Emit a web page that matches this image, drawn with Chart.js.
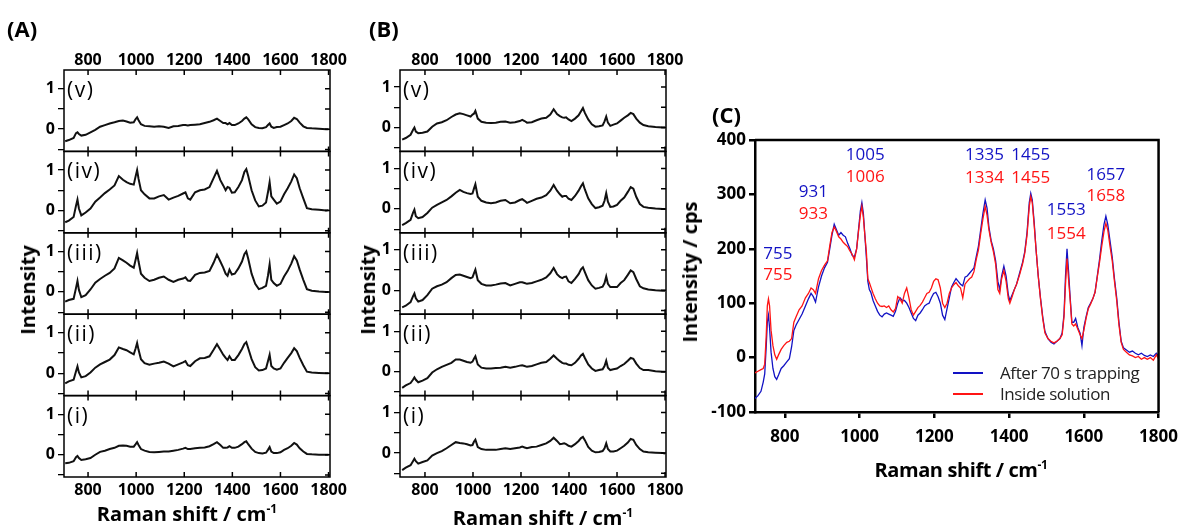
<!DOCTYPE html>
<html><head><meta charset="utf-8">
<script src="https://cdn.jsdelivr.net/npm/chart.js@4.4.1/dist/chart.umd.min.js"></script>
<style>
html,body{margin:0;padding:0;background:#fff;}
body{width:1187px;height:528px;position:relative;overflow:hidden;font-family:'Open Sans',sans-serif;color:#000;}
canvas{position:absolute;}
.t{position:absolute;white-space:nowrap;line-height:1;}
.panel{font-size:22px;font-weight:700;}
.rot{transform:translate(-50%,-50%) rotate(-90deg);}
.ctr{transform:translate(-50%,-50%);}
.ttl{font-size:20px;font-weight:700;}
.rowlab{font-size:21px;font-weight:400;letter-spacing:1.5px;}
.peak{font-size:17px;font-weight:400;transform:translate(-50%,-50%);}
.leg{font-size:17px;letter-spacing:-0.4px;color:#222;}
.legline{position:absolute;height:2px;width:30px;}
sup{font-size:0.6em;vertical-align:0.65em;line-height:0;}
</style></head><body>
<canvas id="cA" width="360" height="528" style="left:0;top:0"></canvas>
<canvas id="cB" width="360" height="528" style="left:336px;top:0"></canvas>
<canvas id="cC" width="547" height="428" style="left:640px;top:100px"></canvas>

<div class="t panel" style="left:7px;top:17px">(A)</div>
<div class="t panel" style="left:369px;top:17px">(B)</div>
<div class="t panel" style="left:712px;top:103px">(C)</div>

<div class="t ttl rot" style="left:28px;top:290px">Intensity</div>
<div class="t ttl rot" style="left:368px;top:290px">Intensity</div>
<div class="t ttl rot" style="left:690px;top:272px">Intensity / cps</div>
<div class="t ttl ctr" style="left:187px;top:514px">Raman shift / cm<sup>-1</sup></div>
<div class="t ttl ctr" style="left:543px;top:518px">Raman shift / cm<sup>-1</sup></div>
<div class="t ttl ctr" style="left:961px;top:470px;letter-spacing:-0.4px">Raman shift / cm<sup>-1</sup></div>

<script>
// ---------- Panels (A) and (B): shared wavenumber grid (cm-1) ----------
const WN_AB = [
 705,720,740,750,756,762,772,790,810,830,
 850,870,890,910,928,945,960,975,990,998,
 1004,1010,1020,1035,1055,1075,1095,1115,1135,1155,
 1175,1195,1205,1215,1225,1245,1265,1285,1305,1322,
 1336,1350,1362,1372,1380,1388,1398,1410,1425,1440,
 1450,1458,1466,1480,1495,1510,1525,1540,1548,1555,
 1562,1572,1585,1600,1615,1630,1645,1657,1668,1680,
 1695,1710,1730,1760,1790,1800];
const ROW_LABELS = ['(i)','(ii)','(iii)','(iv)','(v)'];

// Panel A spectra (normalised intensity)
const A_i = [
 -0.21,-0.20,-0.16,-0.06,-0.03,-0.08,-0.13,-0.11,-0.08,0.00,
 0.07,0.10,0.14,0.17,0.22,0.23,0.22,0.20,0.20,0.26,
 0.31,0.24,0.14,0.10,0.07,0.06,0.07,0.08,0.08,0.10,
 0.12,0.15,0.17,0.14,0.14,0.16,0.17,0.18,0.21,0.26,
 0.31,0.24,0.17,0.17,0.18,0.21,0.17,0.17,0.20,0.26,
 0.31,0.33,0.26,0.15,0.07,0.04,0.03,0.05,0.12,0.19,
 0.08,0.04,0.04,0.06,0.12,0.16,0.22,0.29,0.25,0.16,
 0.08,0.02,0.01,0.00,0.00,0.00];
const A_ii = [
 -0.25,-0.20,-0.16,0.05,0.17,0.02,-0.10,-0.07,0.02,0.14,
 0.22,0.28,0.34,0.45,0.64,0.60,0.57,0.52,0.47,0.62,
 0.75,0.58,0.35,0.25,0.21,0.24,0.26,0.29,0.24,0.17,
 0.22,0.27,0.30,0.20,0.18,0.30,0.37,0.38,0.42,0.58,
 0.72,0.58,0.46,0.38,0.33,0.42,0.33,0.33,0.45,0.60,
 0.72,0.77,0.62,0.35,0.15,0.07,0.08,0.12,0.30,0.46,
 0.18,0.12,0.09,0.12,0.26,0.38,0.50,0.62,0.55,0.38,
 0.20,0.04,0.02,0.01,0.00,0.00];
const A_iii = [
 -0.24,-0.20,-0.17,0.10,0.27,0.05,-0.13,-0.08,0.06,0.23,
 0.32,0.40,0.47,0.58,0.84,0.78,0.72,0.65,0.60,0.80,
 0.96,0.75,0.45,0.35,0.27,0.30,0.35,0.38,0.30,0.25,
 0.30,0.33,0.36,0.28,0.27,0.42,0.47,0.48,0.52,0.72,
 0.92,0.75,0.60,0.45,0.40,0.55,0.43,0.45,0.58,0.75,
 0.93,1.00,0.82,0.45,0.20,0.07,0.10,0.15,0.40,0.68,
 0.30,0.22,0.15,0.20,0.38,0.52,0.70,0.88,0.78,0.55,
 0.30,0.07,0.03,0.01,0.00,0.00];
const A_iv = [
 -0.29,-0.25,-0.16,0.12,0.27,0.05,-0.12,-0.05,0.05,0.22,
 0.32,0.43,0.52,0.62,0.85,0.76,0.70,0.66,0.64,0.85,
 1.00,0.78,0.50,0.40,0.30,0.30,0.35,0.38,0.27,0.32,
 0.36,0.42,0.45,0.30,0.27,0.45,0.50,0.52,0.58,0.80,
 0.98,0.75,0.62,0.50,0.58,0.56,0.44,0.45,0.58,0.75,
 0.95,1.02,0.85,0.50,0.25,0.10,0.12,0.20,0.45,0.70,
 0.35,0.27,0.17,0.22,0.40,0.55,0.72,0.89,0.80,0.55,
 0.30,0.06,0.03,0.02,0.00,0.01];
const A_v = [
 -0.30,-0.27,-0.22,-0.10,-0.08,-0.12,-0.16,-0.14,-0.08,-0.02,
 0.06,0.10,0.14,0.17,0.20,0.21,0.19,0.16,0.17,0.25,
 0.29,0.22,0.12,0.08,0.07,0.06,0.07,0.06,0.03,0.07,
 0.08,0.10,0.10,0.09,0.10,0.11,0.12,0.15,0.18,0.22,
 0.26,0.20,0.15,0.15,0.12,0.15,0.10,0.10,0.14,0.20,
 0.26,0.29,0.24,0.12,0.05,0.03,0.02,0.05,0.10,0.14,
 0.06,0.03,0.05,0.06,0.10,0.14,0.20,0.28,0.25,0.16,
 0.07,0.03,0.02,0.01,0.00,0.00];

// Panel B spectra (normalised intensity)
const B_i = [
 -0.42,-0.36,-0.30,-0.20,-0.14,-0.20,-0.26,-0.22,-0.18,-0.06,
 0.00,0.05,0.12,0.20,0.27,0.25,0.24,0.22,0.19,0.20,
 0.28,0.33,0.15,0.10,0.08,0.08,0.08,0.10,0.12,0.10,
 0.12,0.14,0.16,0.14,0.12,0.15,0.16,0.20,0.24,0.30,
 0.38,0.30,0.22,0.23,0.24,0.22,0.18,0.16,0.22,0.30,
 0.37,0.40,0.32,0.15,0.06,0.02,0.03,0.05,0.12,0.24,
 0.10,0.04,0.04,0.06,0.12,0.18,0.26,0.35,0.33,0.20,
 0.10,0.04,0.02,0.01,0.00,-0.01];
const B_ii = [
 -0.40,-0.34,-0.28,-0.20,-0.14,-0.20,-0.26,-0.22,-0.16,-0.02,
 0.06,0.12,0.17,0.22,0.30,0.30,0.27,0.24,0.22,0.25,
 0.32,0.38,0.18,0.10,0.08,0.08,0.09,0.10,0.12,0.10,
 0.12,0.15,0.16,0.14,0.12,0.14,0.18,0.22,0.24,0.32,
 0.40,0.32,0.26,0.22,0.20,0.20,0.17,0.16,0.22,0.32,
 0.40,0.44,0.34,0.18,0.08,0.02,0.04,0.06,0.14,0.27,
 0.10,0.04,0.06,0.08,0.14,0.19,0.27,0.34,0.32,0.20,
 0.09,0.04,0.04,0.01,0.00,0.00];
const B_iii = [
 -0.42,-0.38,-0.29,-0.15,-0.08,-0.20,-0.28,-0.24,-0.12,0.04,
 0.10,0.14,0.20,0.30,0.38,0.39,0.36,0.33,0.30,0.32,
 0.42,0.51,0.25,0.16,0.12,0.12,0.14,0.17,0.18,0.12,
 0.16,0.20,0.20,0.18,0.16,0.18,0.22,0.26,0.32,0.42,
 0.55,0.40,0.33,0.30,0.33,0.34,0.22,0.18,0.28,0.40,
 0.52,0.57,0.45,0.25,0.12,0.04,0.06,0.09,0.18,0.34,
 0.16,0.08,0.08,0.08,0.18,0.25,0.38,0.49,0.45,0.28,
 0.10,0.05,0.02,0.00,-0.01,-0.01];
const B_iv = [
 -0.40,-0.35,-0.27,-0.10,-0.02,-0.18,-0.23,-0.20,-0.10,0.03,
 0.10,0.16,0.22,0.31,0.40,0.47,0.42,0.39,0.37,0.38,
 0.50,0.61,0.30,0.20,0.16,0.14,0.16,0.20,0.22,0.14,
 0.16,0.22,0.24,0.20,0.15,0.20,0.25,0.28,0.34,0.45,
 0.59,0.45,0.36,0.30,0.32,0.32,0.25,0.22,0.32,0.45,
 0.56,0.63,0.48,0.26,0.12,0.02,0.04,0.08,0.20,0.39,
 0.18,0.05,0.06,0.10,0.20,0.28,0.42,0.54,0.50,0.30,
 0.12,0.05,0.03,0.01,0.00,0.00];
const B_v = [
 -0.30,-0.26,-0.18,-0.06,0.00,-0.10,-0.14,-0.13,-0.10,0.02,
 0.10,0.13,0.18,0.26,0.32,0.35,0.33,0.30,0.27,0.32,
 0.34,0.41,0.22,0.14,0.12,0.11,0.12,0.14,0.15,0.12,
 0.13,0.16,0.19,0.16,0.12,0.13,0.18,0.22,0.24,0.32,
 0.45,0.33,0.28,0.25,0.24,0.25,0.20,0.16,0.22,0.30,
 0.40,0.48,0.36,0.20,0.08,0.02,0.03,0.05,0.15,0.27,
 0.12,0.04,0.07,0.10,0.17,0.24,0.30,0.36,0.33,0.22,
 0.12,0.06,0.03,0.01,0.00,0.00];

// ---------- Panel (C) ----------
const WN_C = [
 720,728,736,742,746,750,753,756,759,763,
 768,773,778,783,790,797,805,812,818,824,
 830,838,846,855,863,870,876,882,890,898,
 906,914,920,926,932,938,944,950,956,962,
 968,974,980,986,992,997,1002,1006,1010,1014,
 1018,1022,1026,1030,1036,1042,1048,1054,1060,1066,
 1072,1078,1084,1090,1096,1102,1108,1114,1120,1126,
 1132,1138,1144,1150,1156,1162,1168,1174,1180,1186,
 1192,1198,1204,1210,1216,1222,1228,1234,1240,1246,
 1252,1258,1264,1270,1276,1282,1288,1294,1300,1306,
 1312,1318,1324,1330,1336,1341,1346,1352,1358,1364,
 1370,1375,1380,1386,1392,1398,1402,1408,1414,1420,
 1428,1436,1442,1448,1454,1458,1462,1467,1472,1478,
 1484,1490,1496,1504,1512,1520,1528,1536,1542,1547,
 1551,1555,1559,1563,1568,1573,1578,1584,1590,1595,
 1600,1606,1612,1618,1624,1630,1636,1642,1648,1654,
 1659,1664,1670,1676,1682,1688,1694,1700,1706,1714,
 1722,1730,1738,1746,1754,1762,1770,1778,1786,1794,
 1800];
const C_AFTER = [
 -75,-70,-62,-45,-30,20,65,78,55,10,
 -20,-35,-40,-32,-20,-15,-8,-2,20,50,
 60,70,80,95,108,118,112,102,130,150,
 165,175,200,225,245,235,225,230,225,222,
 210,200,188,185,200,235,270,285,265,225,
 185,140,125,120,105,95,85,78,75,80,
 82,80,78,76,85,100,110,105,105,100,
 92,82,72,68,78,82,88,95,98,100,
 110,118,120,112,100,78,70,90,110,130,
 138,145,140,135,132,148,150,155,160,165,
 185,205,235,265,290,275,240,215,200,178,
 140,125,150,168,150,115,105,115,125,135,
 155,175,195,230,285,302,290,250,200,150,
 110,75,48,35,28,25,30,35,45,80,
 150,200,160,115,65,65,72,55,45,22,
 55,75,92,100,108,120,150,180,215,245,
 260,245,215,185,145,110,65,30,18,14,
 10,12,8,5,8,4,2,5,2,8,
 3];
const C_INSIDE = [
 -28,-25,-22,-20,-12,40,95,108,95,50,
 22,5,-3,5,15,22,28,30,35,65,
 75,88,95,110,118,128,125,118,145,160,
 170,178,205,230,240,232,222,218,212,208,
 204,196,190,180,200,232,262,278,258,225,
 195,145,138,130,118,108,100,95,94,95,
 92,95,88,84,90,112,108,100,118,128,
 110,88,78,85,92,96,102,110,118,120,
 128,140,145,143,128,100,92,100,118,128,
 134,138,132,128,110,135,140,145,148,158,
 180,198,228,255,278,262,235,212,195,172,
 125,118,145,160,140,108,100,112,125,135,
 152,172,192,225,278,296,285,245,200,150,
 108,72,45,35,30,27,30,35,42,75,
 135,182,145,110,62,58,62,52,42,35,
 50,72,90,98,108,120,148,175,205,232,
 247,235,205,178,140,105,60,28,15,10,
 5,3,0,2,-3,0,-3,0,-5,5,
 -2];
const SERIES_C = ['After 70 s trapping', 'Inside solution'];
const PEAKS_AFTER  = ['755','931','1005','1335','1455','1553','1657'];
const PEAKS_INSIDE = ['755','933','1006','1334','1455','1554','1658'];
// where the peak labels sit (in data units of panel C)
const PEAK_POS_X = [781, 876, 1015, 1334, 1458, 1553, 1659];
const PEAK_POS_Y_AFTER  = [194, 308, 376, 376, 376, 275, 339];
const PEAK_POS_Y_INSIDE = [155, 268, 336, 334, 334, 231, 300];

// ---------- rendering ----------
Chart.defaults.font.family = "'Open Sans', sans-serif";
Chart.defaults.color = '#000';
const pts = (xs, ys) => xs.map((x, i) => ({x: x, y: ys[i]}));
const plain = v => String(v);

const framePlugin = {
  id: 'frame',
  afterDatasetsDraw(chart, args, o) {
    const ctx = chart.ctx, ca = chart.chartArea, xs = chart.scales.x;
    ctx.save();
    ctx.strokeStyle = '#000';
    ctx.lineWidth = o.lineWidth;
    o.rows.forEach(id => {
      const s = chart.scales[id];
      ctx.strokeRect(ca.left, s.top, ca.right - ca.left, s.bottom - s.top);
      ctx.beginPath();
      xs.ticks.forEach(t => {
        const p = xs.getPixelForValue(t.value);
        ctx.moveTo(p, s.top); ctx.lineTo(p, s.top + o.tick);
        ctx.moveTo(p, s.bottom); ctx.lineTo(p, s.bottom - o.tick);
      });
      s.ticks.forEach(t => {
        const p = s.getPixelForValue(t.value);
        ctx.moveTo(ca.right, p); ctx.lineTo(ca.right - o.tick, p);
      });
      ctx.stroke();
    });
    ctx.restore();
  }
};

function stackedPanel(canvasId, left, series, xr, yr) {
  const tickFont = {size: 16, weight: 'bold'};
  const scales = {
    x: {type: 'linear', position: 'bottom', min: xr[0], max: xr[1],
        afterFit: s => { s.height = 24; },
        ticks: {stepSize: 200, includeBounds: false, autoSkip: false, maxRotation: 0, padding: 4, font: tickFont, color: '#000', callback: plain},
        grid: {display: false, drawTicks: false}, border: {display: false}},
    xTop: {type: 'linear', position: 'top', min: xr[0], max: xr[1],
        afterFit: s => { s.height = 22; },
        ticks: {stepSize: 200, includeBounds: false, autoSkip: false, maxRotation: 0, padding: 0, font: tickFont, color: '#000', callback: plain},
        grid: {display: false, drawTicks: false}, border: {display: false}}
  };
  const ids = [];
  series.forEach((v, i) => {
    const id = 'y' + i; ids.push(id);
    scales[id] = {type: 'linear', position: 'left', stack: 'rows', stackWeight: 1, offset: false,
      min: yr[0], max: yr[1],
      afterFit: s => { s.width = 24; },
      ticks: {stepSize: 0.5, includeBounds: false, autoSkip: false, padding: 3, font: tickFont, color: '#000',
              callback: val => Math.abs(val - Math.round(val)) < 1e-9 ? String(Math.round(val)) : ''},
      grid: {display: true, drawOnChartArea: false, drawTicks: true, tickLength: 6, color: '#000', lineWidth: 1.3},
      border: {display: false}};
  });
  const chart = new Chart(document.getElementById(canvasId), {
    type: 'line',
    data: {datasets: series.map((v, i) => ({
      label: ROW_LABELS[i], data: pts(WN_AB, v), yAxisID: 'y' + i,
      borderColor: '#111', borderWidth: 2, pointRadius: 0, tension: 0, fill: false}))},
    options: {
      responsive: false, animation: false, devicePixelRatio: 1,
      layout: {padding: {left: 40, right: 30, top: 48, bottom: 27}},
      plugins: {legend: {display: false}, tooltip: {enabled: false},
                frame: {rows: ids, lineWidth: 1.5, tick: 5}},
      scales: scales
    },
    plugins: [framePlugin]
  });
  ids.forEach((id, i) => {
    const s = chart.scales[id];
    const d = document.createElement('div');
    d.className = 't rowlab';
    d.textContent = ROW_LABELS[i];
    d.style.left = (left + chart.chartArea.left + 3) + 'px';
    d.style.top = (s.top + 9) + 'px';
    document.body.appendChild(d);
  });
  return chart;
}

stackedPanel('cA', 0,   [A_i, A_ii, A_iii, A_iv, A_v], [700, 1806], [-0.55, 1.46]);
stackedPanel('cB', 336, [B_i, B_ii, B_iii, B_iv, B_v], [696, 1804], [-0.59, 1.42]);

// Panel C
const boxPlugin = {
  id: 'boxC',
  afterDatasetsDraw(chart) {
    const ctx = chart.ctx, ca = chart.chartArea;
    ctx.save(); ctx.strokeStyle = '#000'; ctx.lineWidth = 2.5;
    ctx.beginPath();
    ctx.moveTo(ca.left, ca.top); ctx.lineTo(ca.right, ca.top); ctx.lineTo(ca.right, ca.bottom);
    ctx.stroke(); ctx.restore();
  }
};
const COLORS_C = ['#1212c4', '#ff1414'];
const axC = {
  grid: {display: true, drawOnChartArea: false, drawTicks: true, tickLength: 6, color: '#000', lineWidth: 2.5},
  border: {display: true, width: 2.5, color: '#000'}
};
const chartC = new Chart(document.getElementById('cC'), {
  type: 'line',
  data: {datasets: [
    {label: SERIES_C[0], data: pts(WN_C, C_AFTER), borderColor: COLORS_C[0], borderWidth: 1.3, pointRadius: 0, tension: 0, order: 2},
    {label: SERIES_C[1], data: pts(WN_C, C_INSIDE), borderColor: COLORS_C[1], borderWidth: 1.3, pointRadius: 0, tension: 0, order: 1}
  ]},
  options: {
    responsive: false, animation: false, devicePixelRatio: 1,
    layout: {padding: {left: 65, right: 22, top: 40, bottom: 84}},
    plugins: {legend: {display: false}, tooltip: {enabled: false}},
    scales: {
      x: Object.assign({type: 'linear', min: 720, max: 1800,
        afterFit: s => { s.height = 32; },
        ticks: {stepSize: 200, includeBounds: false, autoSkip: false, maxRotation: 0, padding: 9,
                font: {size: 17, weight: 'bold'}, color: '#000', callback: plain}}, axC),
      y: Object.assign({type: 'linear', min: -100, max: 400,
        afterFit: s => { s.width = 50; },
        ticks: {stepSize: 100, autoSkip: false, padding: 3, font: {size: 17, weight: 'bold'}, color: '#000', callback: plain}}, axC)
    }
  },
  plugins: [boxPlugin]
});

// peak labels placed through panel C's scales
(function () {
  const xs = chartC.scales.x, ys = chartC.scales.y, L = 640, T = 100;
  const add = (txt, color, x, y) => {
    const d = document.createElement('div');
    d.className = 't peak'; d.textContent = txt; d.style.color = color;
    d.style.left = (L + xs.getPixelForValue(x)) + 'px';
    d.style.top = (T + ys.getPixelForValue(y)) + 'px';
    document.body.appendChild(d);
  };
  PEAKS_AFTER.forEach((p, i) => add(p, COLORS_C[0], PEAK_POS_X[i], PEAK_POS_Y_AFTER[i]));
  PEAKS_INSIDE.forEach((p, i) => add(p, COLORS_C[1], PEAK_POS_X[i], PEAK_POS_Y_INSIDE[i]));
  // legend built from the datasets
  chartC.data.datasets.forEach((ds, i) => {
    const cy = 373 + i * 21;
    const ln = document.createElement('div');
    ln.className = 'legline'; ln.style.background = ds.borderColor;
    ln.style.left = '953px'; ln.style.top = (cy - 1) + 'px';
    document.body.appendChild(ln);
    const tx = document.createElement('div');
    tx.className = 't leg'; tx.textContent = ds.label;
    tx.style.left = '1000px'; tx.style.top = (cy - 9) + 'px';
    document.body.appendChild(tx);
  });
})();
</script>
</body></html>
